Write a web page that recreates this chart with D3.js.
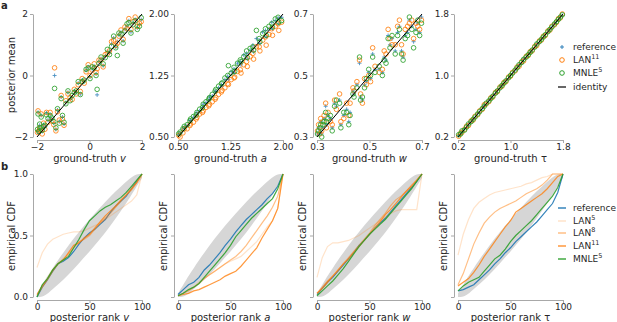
<!DOCTYPE html>
<html lang="en">
<head>
<meta charset="UTF-8">
<style>
  body { margin: 0; background: #fff; }
  svg text { font-family: "DejaVu Sans", sans-serif; fill: #262626; }
  .axis path, .axis line { stroke: #a8a8a8; }
  .axis text { font-size: 9px; }
</style>
<title>Posterior means and SBC</title>
<script src="https://cdn.jsdelivr.net/npm/d3@7"></script>
</head>
<body>
<div id="chart"></div>
<script>
// ---- panel a: ground truth vs posterior mean ----
const vTrue = [-1.98,-1.96,-1.93,-1.9,-1.88,-1.84,-1.8,-1.75,-1.7,-1.64,-1.58,-1.5,-1.43,-1.36,-1.33,-1.28,-1.22,-1.15,-1.08,-1.03,-0.97,-0.9,-0.82,-0.74,-0.66,-0.58,-0.5,-0.43,-0.35,-0.28,-0.2,-0.13,-0.05,0.02,0.1,0.18,0.25,0.29,0.36,0.44,0.52,0.6,0.68,0.76,0.84,0.92,1.0,1.06,1.12,1.2,1.28,1.35,1.43,1.5,1.58,1.66,1.74,1.82,1.9,1.97];
const vRef  = [-1.78,-1.2,-1.88,-1.62,-1.74,-1.3,-1.82,-1.6,-1.68,-1.22,-1.45,-1.27,-1.42,-1.55,0.0,-1.75,-1.12,-1.5,-0.7,-1.35,-1.58,-0.88,-0.55,-0.78,-0.7,-0.5,-0.55,-0.25,-0.6,-0.15,-0.2,0.17,0.28,-0.05,0.22,0.3,0.05,-0.63,0.45,0.55,0.32,0.62,0.78,0.72,1.02,1.22,0.92,1.1,1.32,1.4,1.12,1.5,1.6,1.78,1.42,1.7,1.82,1.55,1.65,1.82];
const vLan  = [-1.85,-1.15,-1.8,-1.7,-1.78,-1.25,-1.9,-1.55,-1.75,-1.2,-1.52,-1.2,-1.48,-1.6,0.25,-1.8,-1.18,-1.45,-0.65,-1.42,-1.62,-0.82,-0.6,-0.72,-0.78,-0.45,-0.6,-0.3,-0.52,-0.1,-0.25,0.12,0.35,0.0,0.18,0.38,0.1,0.22,0.5,0.5,0.28,0.68,0.72,0.8,1.1,1.15,0.98,1.05,1.28,1.48,1.18,1.58,1.52,1.85,1.5,1.75,1.9,1.6,1.7,1.75];
const vMnle = [-1.75,-1.25,-1.82,-1.58,-1.7,-1.35,-1.78,-1.65,-1.62,-1.28,-1.4,-1.3,-1.38,-1.5,-0.42,-1.7,-1.08,-1.55,-0.75,-1.3,-1.52,-0.92,-0.5,-0.82,-0.65,-0.55,-0.5,-0.2,-0.62,-0.2,-0.15,0.2,0.25,-0.1,0.28,0.25,0.0,-0.45,0.4,0.6,0.38,0.58,0.85,0.68,0.95,1.28,0.9,0.65,1.38,1.35,1.05,1.45,1.68,1.72,1.38,1.65,1.78,1.5,1.6,1.88];

const aTrue = [0.51,0.53,0.57,0.59,0.63,0.67,0.68,0.72,0.76,0.77,0.81,0.85,0.86,0.9,0.94,0.95,0.99,1.03,1.04,1.08,1.12,1.13,1.17,1.21,1.22,1.26,1.3,1.31,1.35,1.39,1.4,1.44,1.48,1.49,1.53,1.57,1.58,1.62,1.66,1.67,1.71,1.75,1.76,1.8,1.84,1.85,1.89,1.93,1.94,1.98];
const aRef  = [0.53,0.55,0.6,0.62,0.64,0.7,0.7,0.74,0.76,0.8,0.82,0.86,0.9,0.92,0.95,0.99,1.0,1.05,1.06,1.1,1.14,1.12,1.2,1.24,1.2,1.3,1.33,1.28,1.4,1.42,1.38,1.5,1.52,1.45,1.56,1.62,1.54,1.7,1.68,1.64,1.78,1.8,1.72,1.82,1.9,1.82,1.92,1.95,1.88,1.96];
const aLan  = [0.52,0.5,0.55,0.6,0.6,0.64,0.66,0.68,0.72,0.74,0.78,0.8,0.82,0.86,0.88,0.9,0.93,0.96,0.98,1.02,1.05,1.07,1.1,1.15,1.14,1.2,1.22,1.23,1.3,1.32,1.28,1.38,1.42,1.36,1.48,1.52,1.45,1.6,1.6,1.55,1.68,1.72,1.62,1.75,1.82,1.74,1.85,1.88,1.8,1.9];
const aMnle = [0.54,0.56,0.6,0.63,0.65,0.7,0.72,0.75,0.77,0.8,0.84,0.86,0.9,0.93,0.96,0.98,1.02,1.06,1.08,1.12,1.15,1.16,1.22,1.25,1.37,1.28,1.35,1.3,1.4,1.44,1.42,1.48,1.55,1.47,1.58,1.6,1.56,1.8,1.7,1.66,1.76,1.82,1.74,1.85,1.88,1.84,1.94,1.96,1.9,1.92];

const wTrue = [0.302,0.306,0.311,0.314,0.318,0.323,0.327,0.333,0.336,0.342,0.351,0.358,0.367,0.374,0.386,0.391,0.402,0.413,0.421,0.426,0.437,0.441,0.452,0.462,0.466,0.473,0.481,0.488,0.497,0.504,0.512,0.521,0.537,0.549,0.556,0.563,0.571,0.578,0.586,0.598,0.607,0.614,0.622,0.628,0.636,0.645,0.652,0.661,0.668,0.677,0.684,0.691,0.698];
const wRef  = [0.31,0.33,0.32,0.35,0.31,0.33,0.36,0.4,0.34,0.37,0.36,0.33,0.41,0.4,0.42,0.34,0.37,0.39,0.35,0.38,0.45,0.44,0.47,0.54,0.43,0.42,0.47,0.48,0.51,0.49,0.57,0.52,0.52,0.51,0.56,0.55,0.63,0.6,0.62,0.58,0.64,0.66,0.58,0.56,0.63,0.64,0.68,0.66,0.61,0.65,0.67,0.64,0.69];
const wLan  = [0.32,0.34,0.31,0.36,0.32,0.35,0.37,0.41,0.33,0.38,0.35,0.34,0.42,0.39,0.44,0.35,0.36,0.41,0.37,0.41,0.46,0.45,0.48,0.55,0.44,0.41,0.49,0.47,0.5,0.48,0.59,0.53,0.51,0.52,0.58,0.57,0.65,0.62,0.6,0.6,0.66,0.68,0.6,0.57,0.65,0.66,0.67,0.68,0.62,0.67,0.66,0.65,0.68];
const wMnle = [0.31,0.32,0.33,0.34,0.3,0.34,0.35,0.38,0.35,0.36,0.37,0.32,0.4,0.42,0.41,0.33,0.38,0.38,0.34,0.37,0.44,0.43,0.46,0.56,0.42,0.43,0.46,0.49,0.52,0.5,0.56,0.51,0.53,0.5,0.55,0.54,0.62,0.59,0.63,0.57,0.63,0.65,0.57,0.55,0.62,0.63,0.69,0.65,0.59,0.64,0.68,0.63,0.67];

const tTrue = [0.21,0.24,0.26,0.3,0.33,0.36,0.4,0.43,0.46,0.5,0.53,0.57,0.6,0.63,0.67,0.7,0.73,0.77,0.8,0.84,0.87,0.9,0.93,0.97,1.0,1.03,1.07,1.1,1.13,1.17,1.2,1.24,1.27,1.3,1.33,1.37,1.4,1.44,1.47,1.5,1.53,1.57,1.6,1.63,1.67,1.7,1.73,1.76,1.79];
const tRef  = [0.22,0.23,0.27,0.31,0.32,0.37,0.39,0.44,0.45,0.51,0.52,0.58,0.61,0.62,0.68,0.69,0.74,0.76,0.81,0.83,0.88,0.89,0.94,0.96,1.01,1.02,1.08,1.09,1.14,1.16,1.22,1.23,1.28,1.29,1.34,1.36,1.42,1.43,1.48,1.49,1.54,1.56,1.61,1.62,1.68,1.71,1.72,1.77,1.78];
const tLan  = [0.21,0.25,0.26,0.3,0.34,0.35,0.41,0.42,0.47,0.49,0.54,0.56,0.62,0.63,0.66,0.71,0.72,0.78,0.79,0.85,0.86,0.91,0.92,0.98,0.99,1.04,1.06,1.11,1.12,1.18,1.19,1.25,1.26,1.31,1.32,1.38,1.39,1.45,1.46,1.51,1.52,1.58,1.59,1.64,1.66,1.69,1.74,1.75,1.8];
const tMnle = [0.23,0.24,0.28,0.29,0.33,0.37,0.4,0.43,0.46,0.5,0.53,0.57,0.6,0.64,0.67,0.7,0.73,0.77,0.8,0.84,0.87,0.9,0.93,0.97,1.0,1.03,1.07,1.1,1.14,1.17,1.21,1.24,1.27,1.3,1.33,1.37,1.41,1.44,1.47,1.5,1.53,1.57,1.6,1.63,1.67,1.7,1.73,1.76,1.79];

// ---- panel b: empirical CDF of posterior ranks ----
const rankX = [0,5,10,15,20,25,30,35,40,45,50,55,60,65,70,75,80,85,90,95,100];

const cdfVRef   = [0.00,0.08,0.14,0.21,0.27,0.29,0.32,0.37,0.43,0.48,0.52,0.55,0.59,0.63,0.69,0.74,0.78,0.82,0.88,0.94,1.00];
const cdfVLan5  = [0.24,0.36,0.43,0.47,0.49,0.51,0.52,0.53,0.53,0.54,0.56,0.58,0.60,0.63,0.66,0.69,0.72,0.75,0.78,0.83,1.00];
const cdfVLan8  = [0.01,0.08,0.14,0.21,0.27,0.31,0.35,0.40,0.45,0.47,0.50,0.55,0.60,0.64,0.68,0.73,0.78,0.83,0.87,0.93,1.00];
const cdfVLan11 = [0.02,0.09,0.15,0.22,0.27,0.30,0.36,0.42,0.44,0.48,0.51,0.56,0.61,0.66,0.70,0.74,0.79,0.83,0.88,0.93,1.00];
const cdfVMnle  = [0.00,0.10,0.15,0.22,0.27,0.30,0.33,0.40,0.47,0.55,0.62,0.66,0.70,0.73,0.75,0.78,0.81,0.85,0.90,0.95,1.00];

const cdfARef   = [0.02,0.06,0.10,0.12,0.16,0.22,0.26,0.31,0.36,0.42,0.47,0.53,0.58,0.63,0.67,0.71,0.75,0.80,0.84,0.90,1.00];
const cdfALan5  = [0.01,0.03,0.05,0.08,0.12,0.15,0.18,0.21,0.24,0.27,0.29,0.31,0.33,0.37,0.41,0.45,0.51,0.57,0.62,0.72,1.00];
const cdfALan8  = [0.01,0.03,0.05,0.08,0.11,0.15,0.18,0.21,0.24,0.27,0.30,0.33,0.37,0.42,0.48,0.54,0.60,0.66,0.73,0.82,1.00];
const cdfALan11 = [0.01,0.02,0.03,0.05,0.06,0.08,0.10,0.12,0.14,0.17,0.19,0.21,0.25,0.30,0.35,0.40,0.48,0.55,0.62,0.72,1.00];
const cdfAMnle  = [0.01,0.03,0.06,0.08,0.11,0.16,0.21,0.26,0.31,0.36,0.42,0.49,0.54,0.59,0.64,0.68,0.72,0.76,0.80,0.88,1.00];

const cdfWRef   = [0.02,0.07,0.12,0.16,0.21,0.26,0.31,0.36,0.42,0.46,0.51,0.56,0.60,0.64,0.69,0.74,0.79,0.84,0.89,0.94,1.00];
const cdfWLan5  = [0.16,0.32,0.41,0.44,0.44,0.45,0.46,0.48,0.50,0.53,0.56,0.59,0.62,0.65,0.68,0.70,0.71,0.71,0.71,0.71,1.00];
const cdfWLan8  = [0.03,0.08,0.13,0.17,0.21,0.27,0.32,0.37,0.42,0.47,0.52,0.58,0.63,0.68,0.74,0.79,0.82,0.86,0.91,0.95,1.00];
const cdfWLan11 = [0.03,0.07,0.12,0.17,0.22,0.27,0.31,0.36,0.41,0.46,0.51,0.56,0.61,0.67,0.71,0.76,0.81,0.86,0.90,0.95,1.00];
const cdfWMnle  = [0.01,0.05,0.09,0.13,0.18,0.23,0.29,0.35,0.41,0.46,0.51,0.55,0.59,0.63,0.68,0.73,0.78,0.83,0.88,0.94,1.00];

const cdfTRef   = [0.05,0.06,0.08,0.10,0.14,0.18,0.22,0.27,0.31,0.36,0.40,0.45,0.49,0.53,0.57,0.61,0.66,0.71,0.76,0.85,1.00];
const cdfTLan5  = [0.34,0.51,0.63,0.72,0.77,0.80,0.83,0.85,0.86,0.87,0.88,0.89,0.90,0.92,0.93,0.95,0.97,0.98,1.00,1.00,1.00];
const cdfTLan8  = [0.10,0.19,0.31,0.43,0.52,0.60,0.65,0.69,0.72,0.74,0.76,0.78,0.81,0.84,0.86,0.88,0.91,0.95,1.00,1.00,1.00];
const cdfTLan11 = [0.09,0.12,0.15,0.20,0.26,0.33,0.39,0.45,0.51,0.57,0.62,0.69,0.72,0.75,0.78,0.81,0.84,0.88,0.93,0.98,1.00];
const cdfTMnle  = [0.05,0.09,0.12,0.14,0.16,0.21,0.26,0.31,0.34,0.39,0.45,0.50,0.54,0.58,0.62,0.67,0.72,0.77,0.82,0.89,1.00];

// grey band (expected ECDF under uniform ranks)
const bandX  = [0,5,10,20,30,40,50,60,70,80,90,95,100];
const bandLo = [0.00,0.00,0.025,0.10,0.18,0.275,0.37,0.47,0.58,0.70,0.83,0.90,0.97];
const bandHi = [0.03,0.10,0.17,0.30,0.42,0.53,0.63,0.725,0.82,0.90,0.975,1.00,1.00];

const paramNames = ['v', 'a', 'w', 'τ'];
const domains = [[-2, 2], [0.5, 2.0], [0.3, 0.7], [0.2, 1.8]];
const tickVals = [[-2, 0, 2], [0.5, 1.25, 2.0], [0.3, 0.5, 0.7], [0.2, 1.0, 1.8]];
const tickFmts = ['d', '.2f', '.1f', '.1f'];
const cdfTicksX = [0, 50, 100];
const cdfTicksY = [0, 0.5, 1];

const scatterSets = [
  [vTrue, vRef, vLan, vMnle],
  [aTrue, aRef, aLan, aMnle],
  [wTrue, wRef, wLan, wMnle],
  [tTrue, tRef, tLan, tMnle]
];
const cdfSets = [
  [cdfVRef, cdfVLan5, cdfVLan8, cdfVLan11, cdfVMnle],
  [cdfARef, cdfALan5, cdfALan8, cdfALan11, cdfAMnle],
  [cdfWRef, cdfWLan5, cdfWLan8, cdfWLan11, cdfWMnle],
  [cdfTRef, cdfTLan5, cdfTLan8, cdfTLan11, cdfTMnle]
];

// colours
const blue = '#1f77b4', orange = '#ff7f0e', green = '#2ca02c';
const cdfColors = [blue, orange, orange, orange, green];
const cdfOpacity = [0.9, 0.22, 0.5, 0.8, 0.9];

// layout
const lefts = [37, 178, 317, 458];
const pw = 105;
const topRange = [137, 14];
const botRange = [297, 174];

const svg = d3.select('#chart').append('svg')
  .attr('width', 617).attr('height', 322);

function drawAxes(g, x, y, xt, yt, xf, yf, y0, showY) {
  const xa = d3.axisBottom(x).tickValues(xt).tickFormat(xf)
    .tickSize(3).tickPadding(1).tickSizeOuter(0);
  const ya = d3.axisLeft(y).tickValues(yt).tickFormat(showY ? yf : '')
    .tickSize(3).tickPadding(2).tickSizeOuter(0);
  g.append('g').attr('class', 'axis')
    .attr('transform', `translate(0,${y0 + 3})`).call(xa);
  g.append('g').attr('class', 'axis')
    .attr('transform', `translate(-4,0)`).call(ya);
}

function plusPath(cx, cy, s) {
  return `M${cx - s},${cy}H${cx + s}M${cx},${cy - s}V${cy + s}`;
}

// ---- top row ----
paramNames.forEach((p, i) => {
  const g = svg.append('g').attr('transform', `translate(${lefts[i]},0)`);
  const x = d3.scaleLinear().domain(domains[i]).range([0, pw]);
  const y = d3.scaleLinear().domain(domains[i]).range(topRange);
  const [gt, ref, lan, mnle] = scatterSets[i];

  g.append('g').selectAll('path').data(gt).enter().append('path')
    .attr('d', (d, j) => plusPath(x(d), y(ref[j]), 2))
    .attr('stroke', blue).attr('stroke-width', 0.9).attr('opacity', 0.8);

  g.append('g').selectAll('circle').data(gt).enter().append('circle')
    .attr('cx', d => x(d)).attr('cy', (d, j) => y(lan[j])).attr('r', 2.3)
    .attr('fill', 'none').attr('stroke', orange).attr('stroke-width', 1).attr('opacity', 0.85);

  g.append('g').selectAll('circle').data(gt).enter().append('circle')
    .attr('cx', d => x(d)).attr('cy', (d, j) => y(mnle[j])).attr('r', 2.3)
    .attr('fill', 'none').attr('stroke', green).attr('stroke-width', 1).attr('opacity', 0.85);

  g.append('line')
    .attr('x1', x(domains[i][0])).attr('y1', y(domains[i][0]))
    .attr('x2', x(domains[i][1])).attr('y2', y(domains[i][1]))
    .attr('stroke', '#000').attr('stroke-width', 1);

  const f = d3.format(tickFmts[i]);
  drawAxes(g, x, y, tickVals[i], tickVals[i], f, f, topRange[0], true);

  const xl = g.append('text').attr('x', pw / 2).attr('y', 162)
    .attr('text-anchor', 'middle').style('font-size', '10px');
  xl.append('tspan').text('ground-truth ');
  xl.append('tspan').text(p).style('font-style', p === 'τ' ? 'normal' : 'italic');
});

svg.append('text').attr('transform', 'translate(15,75) rotate(-90)')
  .attr('text-anchor', 'middle').style('font-size', '10px').text('posterior mean');

// ---- bottom row ----
paramNames.forEach((p, i) => {
  const g = svg.append('g').attr('transform', `translate(${lefts[i]},0)`);
  const x = d3.scaleLinear().domain([0, 100]).range([0, pw]);
  const y = d3.scaleLinear().domain([0, 1]).range(botRange);

  const band = d3.area().curve(d3.curveBasis)
    .x((d, j) => x(d)).y0((d, j) => y(bandLo[j])).y1((d, j) => y(bandHi[j]));
  g.append('path').datum(bandX).attr('d', band).attr('fill', '#d6d6d6');

  const line = d3.line().x((d, j) => x(rankX[j])).y(d => y(d));
  cdfSets[i].forEach((s, k) => {
    g.append('path').datum(s).attr('d', line)
      .attr('fill', 'none').attr('stroke', cdfColors[k])
      .attr('stroke-opacity', cdfOpacity[k]).attr('stroke-width', 1.2);
  });

  drawAxes(g, x, y, cdfTicksX, cdfTicksY, d3.format('d'), d3.format('.1f'), botRange[0], i === 0);

  const xl = g.append('text').attr('x', pw / 2).attr('y', 321)
    .attr('text-anchor', 'middle').style('font-size', '10px');
  xl.append('tspan').text('posterior rank ');
  xl.append('tspan').text(p).style('font-style', p === 'τ' ? 'normal' : 'italic');

  const lx = i === 0 ? 15 - lefts[0] : -11;
  g.append('text').attr('transform', `translate(${lx},236) rotate(-90)`)
    .attr('text-anchor', 'middle').style('font-size', '10px').text('empirical CDF');
});

// ---- panel letters ----
svg.append('text').attr('x', 1).attr('y', 9).style('font-size', '10px')
  .style('font-weight', 'bold').text('a');
svg.append('text').attr('x', 1).attr('y', 170).style('font-size', '10px')
  .style('font-weight', 'bold').text('b');

// ---- legends ----
function legendLabel(sel, base, sup) {
  sel.append('tspan').text(base);
  if (sup) sel.append('tspan').attr('baseline-shift', 'super').style('font-size', '6.5px').text(sup);
}

const topLeg = svg.append('g').attr('transform', 'translate(562,0)');
const topItems = [
  { t: 'reference', s: '', y: 47, kind: 'plus', c: blue },
  { t: 'LAN', s: '11', y: 60, kind: 'circle', c: orange },
  { t: 'MNLE', s: '5', y: 73, kind: 'circle', c: green },
  { t: 'identity', s: '', y: 87, kind: 'line', c: '#000' }
];
topItems.forEach(d => {
  if (d.kind === 'plus') topLeg.append('path').attr('d', plusPath(0, d.y, 2)).attr('stroke', d.c).attr('stroke-width', 0.9);
  if (d.kind === 'circle') topLeg.append('circle').attr('cx', 0).attr('cy', d.y).attr('r', 2.3)
    .attr('fill', 'none').attr('stroke', d.c).attr('stroke-width', 1);
  if (d.kind === 'line') topLeg.append('line').attr('x1', -4).attr('x2', 4).attr('y1', d.y).attr('y2', d.y)
    .attr('stroke', d.c).attr('stroke-width', 1.2);
  legendLabel(topLeg.append('text').attr('x', 11).attr('y', d.y + 3.2).style('font-size', '9px'), d.t, d.s);
});

const botLeg = svg.append('g').attr('transform', 'translate(562,0)');
const botNames = [['reference', ''], ['LAN', '5'], ['LAN', '8'], ['LAN', '11'], ['MNLE', '5']];
const botY = [208, 221, 233, 246, 259];
botNames.forEach((d, k) => {
  botLeg.append('line').attr('x1', -4).attr('x2', 4).attr('y1', botY[k]).attr('y2', botY[k])
    .attr('stroke', cdfColors[k]).attr('stroke-opacity', cdfOpacity[k]).attr('stroke-width', 1.5);
  legendLabel(botLeg.append('text').attr('x', 11).attr('y', botY[k] + 3.2).style('font-size', '9px'), d[0], d[1]);
});
</script>
</body>
</html>
